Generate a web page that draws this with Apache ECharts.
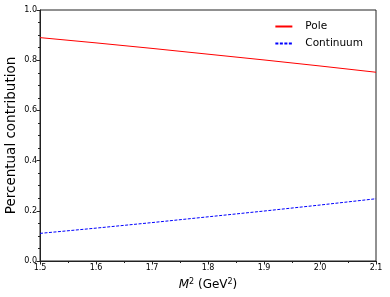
<!DOCTYPE html>
<html>
<head>
<meta charset="utf-8">
<script src="https://cdn.jsdelivr.net/npm/echarts@6/dist/echarts.min.js"></script>
<style>html,body{margin:0;padding:0;background:#fff}#c{width:390px;height:297px}</style>
</head>
<body>
<div id="c"></div>
<script>
var m2 = [1.5, 1.6, 1.7, 1.8, 1.9, 2.0, 2.1];
var pole = [0.890, 0.869, 0.847, 0.824, 0.801, 0.777, 0.752];
var continuum = [0.110, 0.131, 0.153, 0.176, 0.199, 0.223, 0.248];
var seriesNames = ['Pole', 'Continuum'];
var seriesColors = ['#ff0000', '#0000ff'];
var FONT = 'DejaVu Sans';
function pairs(xs, ys) { return xs.map(function (x, i) { return [x, ys[i]]; }); }
var chart = echarts.init(document.getElementById('c'), null, {renderer: 'canvas'});
chart.setOption({
  animation: false,
  backgroundColor: '#fff',
  textStyle: {fontFamily: FONT},
  grid: {left: 40, right: 14, top: 10, bottom: 36, show: true, borderColor: '#222', borderWidth: 1,
         containLabel: false, outerBoundsMode: 'none'},
  legend: {
    orient: 'vertical', right: 22, top: 16, itemWidth: 17, itemHeight: 8, itemGap: 6,
    itemStyle: {opacity: 0},
    textStyle: {fontFamily: FONT, fontSize: 10.5, color: '#000', padding: [0, 0, 0, 8]},
    data: seriesNames
  },
  xAxis: {
    type: 'value', min: 1.5, max: 2.1, interval: 0.1,
    name: '{i|M}{s|2} (GeV{s|2})', nameLocation: 'middle', nameGap: 17, nameMoveOverlap: false,
    nameTextStyle: {fontFamily: FONT, fontSize: 12, color: '#000',
      rich: {i: {fontStyle: 'italic', fontSize: 12, fontFamily: FONT, color: '#000'},
             s: {fontSize: 8, verticalAlign: 'top', fontFamily: FONT, color: '#000', padding: [0, 0, 6, 0]}}},
    axisLine: {lineStyle: {color: '#222', width: 1}},
    axisTick: {inside: false, length: 3.5, lineStyle: {color: '#222'}},
    minorTick: {show: true, splitNumber: 2, length: 2, lineStyle: {color: '#222'}},
    axisLabel: {fontSize: 8, color: '#000', margin: 3, formatter: function (v) { return v.toFixed(1); }},
    splitLine: {show: false}
  },
  yAxis: {
    type: 'value', min: 0, max: 1, interval: 0.2,
    name: 'Percentual contribution', nameLocation: 'middle', nameGap: 22, nameMoveOverlap: false,
    nameTextStyle: {fontFamily: FONT, fontSize: 13.5, color: '#000'},
    axisLine: {show: true, lineStyle: {color: '#222', width: 1}},
    axisTick: {show: true, inside: false, length: 3.5, lineStyle: {color: '#222'}},
    minorTick: {show: true, splitNumber: 4, length: 2, lineStyle: {color: '#222'}},
    axisLabel: {fontSize: 8, color: '#000', margin: 3, formatter: function (v) { return v.toFixed(1); }},
    splitLine: {show: false}
  },
  series: [
    {name: seriesNames[0], type: 'line', data: pairs(m2, pole), showSymbol: false, symbol: 'none',
     lineStyle: {color: seriesColors[0], width: 1}, itemStyle: {color: seriesColors[0]}},
    {name: seriesNames[1], type: 'line', data: pairs(m2, continuum), showSymbol: false, symbol: 'none',
     lineStyle: {color: seriesColors[1], width: 1, type: [3, 1.5]}, itemStyle: {color: seriesColors[1]}}
  ]
});
</script>
</body>
</html>
